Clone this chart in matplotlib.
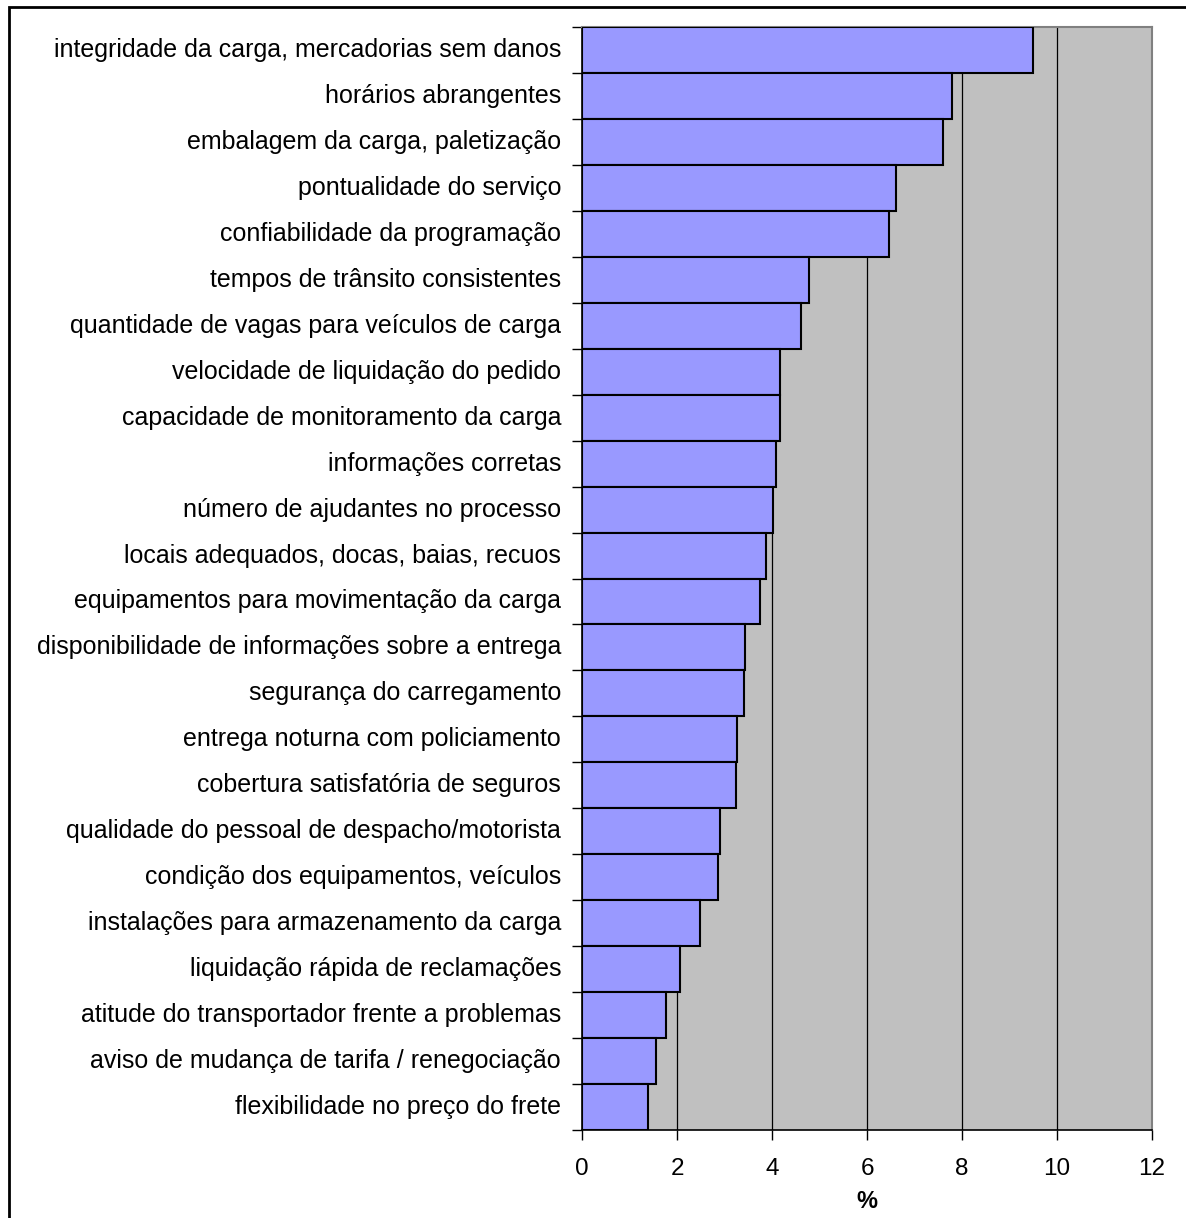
import matplotlib
matplotlib.use("Agg")
import matplotlib.pyplot as plt
import matplotlib.transforms as mtransforms
from matplotlib.patches import Rectangle

categorias = [
    "integridade da carga, mercadorias sem danos",
    "horários abrangentes",
    "embalagem da carga, paletização",
    "pontualidade do serviço",
    "confiabilidade da programação",
    "tempos de trânsito consistentes",
    "quantidade de vagas para veículos de carga",
    "velocidade de liquidação do pedido",
    "capacidade de monitoramento da carga",
    "informações corretas",
    "número de ajudantes no processo",
    "locais adequados, docas, baias, recuos",
    "equipamentos para movimentação da carga",
    "disponibilidade de informações sobre a entrega",
    "segurança do carregamento",
    "entrega noturna com policiamento",
    "cobertura satisfatória de seguros",
    "qualidade do pessoal de despacho/motorista",
    "condição dos equipamentos, veículos",
    "instalações para armazenamento da carga",
    "liquidação rápida de reclamações",
    "atitude do transportador frente a problemas",
    "aviso de mudança de tarifa / renegociação",
    "flexibilidade no preço do frete",
]
percentuais = [9.50, 7.78, 7.61, 6.60, 6.47, 4.78, 4.62, 4.16, 4.17, 4.08,
               4.03, 3.87, 3.74, 3.44, 3.40, 3.27, 3.24, 2.90, 2.86, 2.48,
               2.06, 1.76, 1.55, 1.38]
xticks = [0, 2, 4, 6, 8, 10, 12]

plt.rcParams['font.family'] = ['Liberation Sans', 'DejaVu Sans']

fig = plt.figure(figsize=(11.86, 12.18), dpi=100)
ax = fig.add_axes([582/1186, 1 - 1130/1218, 570/1186, 1103/1218])
ax.set_facecolor('#C0C0C0')

n = len(categorias)
pos = list(range(n))
ax.barh(pos, percentuais, height=1.0, color='#9999FF', edgecolor='black',
        linewidth=1.5, zorder=3)
ax.set_xlim(0, 12)
ax.set_ylim(n - 0.5, -0.5)

ax.set_xticks(xticks)
ax.set_xticklabels([str(t) for t in xticks], fontsize=17.5)
ax.xaxis.grid(True, color='black', linewidth=0.9, zorder=1)
ax.set_axisbelow(True)

# rótulos das categorias, ticks entre as barras
ax.set_yticks([p - 0.5 for p in pos] + [n - 0.5])
ax.set_yticklabels([])
trans = mtransforms.offset_copy(ax.get_yaxis_transform(), fig=fig,
                                x=-21, y=0, units='dots')
for p, txt in zip(pos, categorias):
    ax.text(0, p, txt, transform=trans, fontsize=18, ha='right', va='center')

ax.tick_params(axis='y', direction='out', length=7, width=1)
ax.tick_params(axis='x', direction='out', length=7, width=1, pad=13)

ax.spines['left'].set_color('black')
ax.spines['bottom'].set_color('black')
ax.spines['left'].set_linewidth(1.2)
ax.spines['bottom'].set_linewidth(1.2)
ax.spines['top'].set_color('#808080')
ax.spines['right'].set_color('#808080')
ax.spines['top'].set_linewidth(1.5)
ax.spines['right'].set_linewidth(1.5)

ax.set_xlabel('%', fontsize=17, fontweight='bold', labelpad=7)

# borda externa do gráfico
fig.patches.append(Rectangle((9/1186, -0.1), 1.2, 1 - 7/1218 + 0.1,
                             transform=fig.transFigure, fill=False,
                             edgecolor='black', linewidth=2))

plt.savefig('out.png', dpi=100)
